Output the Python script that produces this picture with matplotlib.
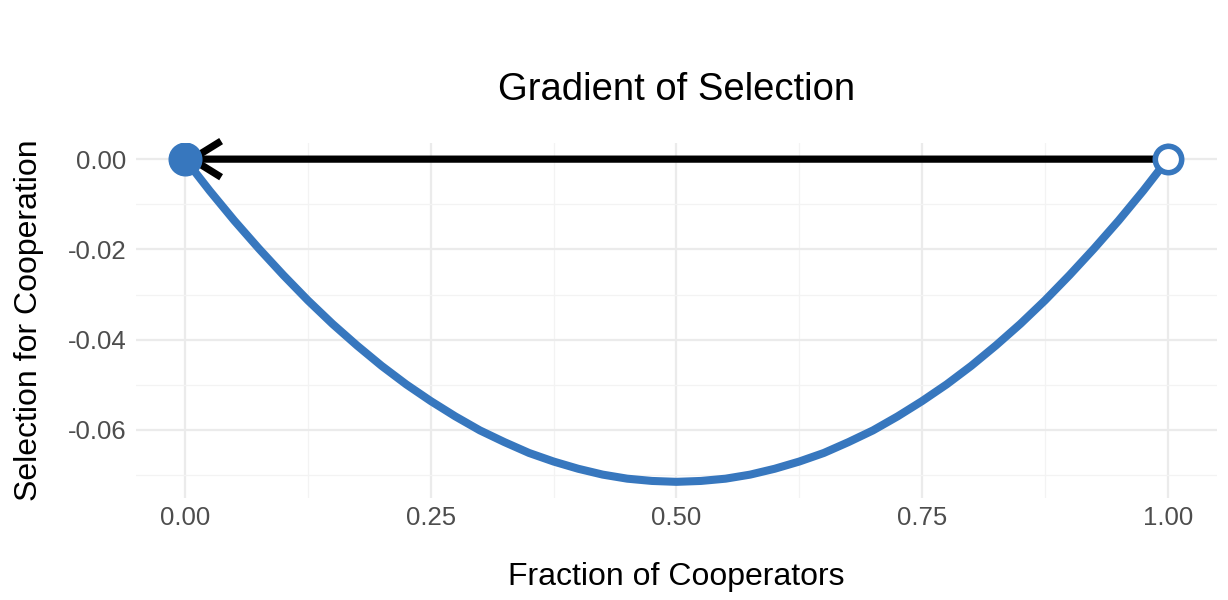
import numpy as np
import matplotlib.pyplot as plt

# fraction of cooperators and selection gradient
frac = [0.0, 0.025, 0.05, 0.075, 0.1, 0.125, 0.15, 0.175, 0.2, 0.225, 0.25,
        0.275, 0.3, 0.325, 0.35, 0.375, 0.4, 0.425, 0.45, 0.475, 0.5,
        0.525, 0.55, 0.575, 0.6, 0.625, 0.65, 0.675, 0.7, 0.725, 0.75,
        0.775, 0.8, 0.825, 0.85, 0.875, 0.9, 0.925, 0.95, 0.975, 1.0]
grad = [0.0, -0.0070, -0.0136, -0.0198, -0.0257, -0.0313, -0.0365, -0.0413,
        -0.0458, -0.0499, -0.0536, -0.0570, -0.0601, -0.0627, -0.0651,
        -0.0670, -0.0686, -0.0699, -0.0708, -0.0713, -0.0715,
        -0.0713, -0.0708, -0.0699, -0.0686, -0.0670, -0.0651, -0.0627,
        -0.0601, -0.0570, -0.0536, -0.0499, -0.0458, -0.0413, -0.0365,
        -0.0313, -0.0257, -0.0198, -0.0136, -0.0070, 0.0]

stable_x = [0.0]
stable_y = [0.0]
unstable_x = [1.0]
unstable_y = [0.0]
arrow_from = (1.0, 0.0)
arrow_to = (0.0, 0.0)

xticks = [0.0, 0.25, 0.5, 0.75, 1.0]
xlabels = ["0.00", "0.25", "0.50", "0.75", "1.00"]
yticks = [0.0, -0.02, -0.04, -0.06]
ylabels = ["0.00", "-0.02", "-0.04", "-0.06"]

blue = "#3777be"
plt.rcParams['font.family'] = ['Liberation Sans', 'DejaVu Sans']

fig = plt.figure(figsize=(12.28, 6), dpi=100)
ax = fig.add_axes([0.1107, 0.17, 0.8803, 0.5917])

ax.plot(frac, grad, color=blue, lw=5.8, solid_capstyle='butt',
        solid_joinstyle='round', zorder=3)
ax.annotate("", xy=arrow_to, xytext=arrow_from,
            arrowprops=dict(arrowstyle="->,head_length=1.05,head_width=0.65",
                            mutation_scale=20, lw=5.2, color="black",
                            capstyle='butt', shrinkA=0, shrinkB=0),
            zorder=4)
ax.plot(stable_x, stable_y, 'o', ms=23.5, color=blue, mec=blue, zorder=5)
ax.plot(unstable_x, unstable_y, 'o', ms=19, mfc='white', mec=blue, mew=4,
        zorder=5)

ax.set_xlim(-0.05, 1.05)
ax.set_ylim(-0.07508, 0.00358)
ax.set_xticks(xticks)
ax.set_xticklabels(xlabels)
ax.set_yticks(yticks)
ax.set_yticklabels(ylabels)
ax.set_xticks([0.125, 0.375, 0.625, 0.875], minor=True)
ax.set_yticks([-0.01, -0.03, -0.05, -0.07], minor=True)
ax.grid(which='major', color='#ebebeb', lw=1.6)
ax.grid(which='minor', color='#f3f3f3', lw=0.9)
ax.set_axisbelow(True)
for s in ax.spines.values():
    s.set_visible(False)
ax.tick_params(which='both', length=0)
ax.tick_params(axis='both', labelsize=18.5, labelcolor='#4d4d4d')
ax.tick_params(axis='x', pad=6)
ax.tick_params(axis='y', pad=7)

fig.text(0.551, 0.833, "Gradient of Selection", ha='center', va='baseline',
         fontsize=27.5)
fig.text(0.551, 0.025, "Fraction of Cooperators", ha='center', va='baseline',
         fontsize=23)
fig.text(0.024, 0.466, "Selection for Cooperation", ha='center', va='center',
         rotation=90, fontsize=23)

fig.savefig("out.png", dpi=100)
